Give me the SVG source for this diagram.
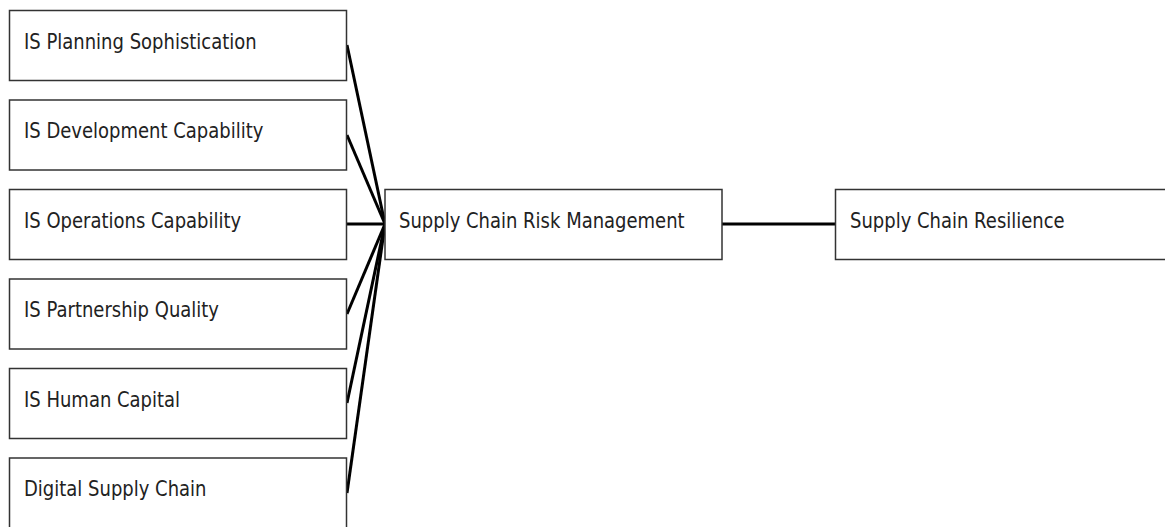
<svg xmlns="http://www.w3.org/2000/svg" width="1165" height="527" viewBox="0 0 1165 527">
<style>
.box{fill:#fff;stroke:#333;stroke-width:1.5}
.lbl{font-family:"DejaVu Sans",sans-serif;font-size:18px;fill:#222}
.edge{stroke:#000;stroke-width:3;fill:none}
</style>
<rect width="1165" height="527" fill="#fff"/>
<g id="connectors">
<line class="edge" x1="347" y1="45" x2="385" y2="224"/>
<line class="edge" x1="347" y1="135" x2="385" y2="224"/>
<line class="edge" x1="347" y1="224" x2="385" y2="224"/>
<line class="edge" x1="347" y1="314" x2="385" y2="224"/>
<line class="edge" x1="347" y1="403" x2="385" y2="224"/>
<line class="edge" x1="347" y1="493" x2="385" y2="224"/>
<line class="edge" x1="722" y1="224" x2="835" y2="224"/>
</g>
<g id="n1"><rect class="box" x="9.5" y="10.5" width="337" height="70"/><text class="lbl" transform="translate(24,48.5) scale(1,1.17)">IS Planning Sophistication</text></g>
<g id="n2"><rect class="box" x="9.5" y="100" width="337" height="70"/><text class="lbl" transform="translate(24,138) scale(1,1.17)">IS Development Capability</text></g>
<g id="n3"><rect class="box" x="9.5" y="189.5" width="337" height="70"/><text class="lbl" transform="translate(24,227.5) scale(1,1.17)">IS Operations Capability</text></g>
<g id="n4"><rect class="box" x="9.5" y="279" width="337" height="70"/><text class="lbl" transform="translate(24,317) scale(1,1.17)">IS Partnership Quality</text></g>
<g id="n5"><rect class="box" x="9.5" y="368.5" width="337" height="70"/><text class="lbl" transform="translate(24,406.5) scale(1,1.17)">IS Human Capital</text></g>
<g id="n6"><rect class="box" x="9.5" y="458" width="337" height="70"/><text class="lbl" transform="translate(24,496) scale(1,1.17)">Digital Supply Chain</text></g>
<g id="n7"><rect class="box" x="385" y="189.5" width="337" height="70"/><text class="lbl" transform="translate(399,227.5) scale(1,1.17)">Supply Chain Risk Management</text></g>
<g id="n8"><rect class="box" x="835.5" y="189.5" width="337" height="70"/><text class="lbl" transform="translate(850,227.5) scale(1,1.17)">Supply Chain Resilience</text></g>
</svg>
